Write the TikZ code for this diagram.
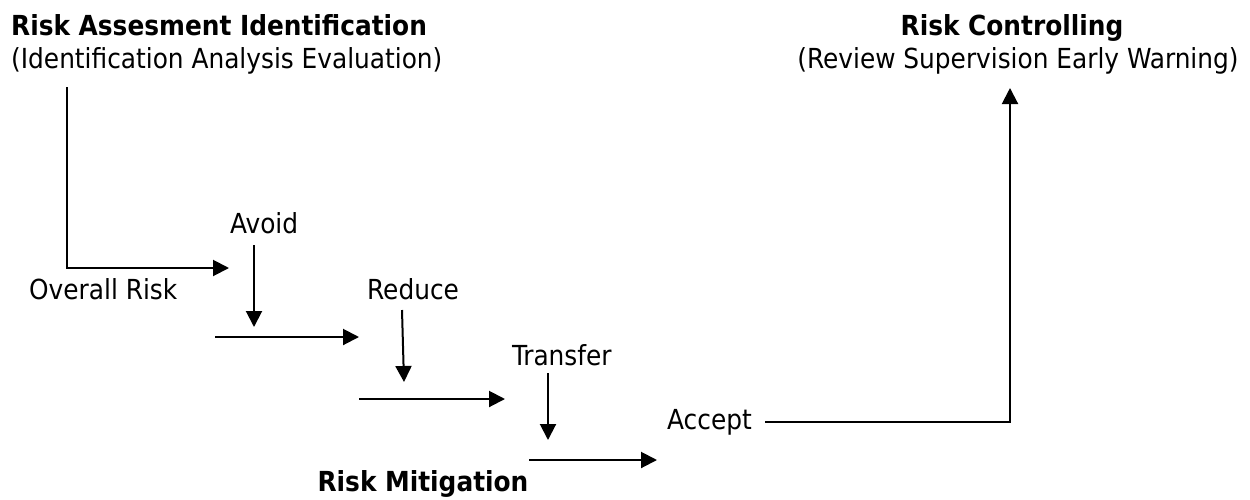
\documentclass[tikz,border=0pt]{standalone}
\usepackage{fontspec}
\setmainfont{DejaVu Sans Condensed}[BoldFont={DejaVu Sans Condensed Bold}]
\usepackage{tikz}
\usetikzlibrary{arrows.meta}

\begin{document}
\begin{tikzpicture}[x=1pt, y=-1pt,
    etichetta/.style = {inner sep=0pt, font=\fontsize{27.6}{32}\selectfont},
    titolo/.style = {etichetta, font=\fontsize{27.6}{32}\selectfont\bfseries},
    freccia/.style = {line width=2pt, -{Triangle[length=16pt, width=16pt]}},
    linea/.style = {line width=2pt}]
    \useasboundingbox (0,0) rectangle (1250,499);
    % Titoli
    \node[titolo, anchor=base west] (titA) at (11,35) {Risk Assesment Identification};
    \node[etichetta, anchor=base west] (subA) at (11,68) {(Identification Analysis Evaluation)};
    \node[titolo, anchor=base] (titC) at (1012,35) {Risk Controlling};
    \node[etichetta, anchor=base] (subC) at (1018,68) {(Review Supervision Early Warning)};
    \node[titolo, anchor=base] (mitig) at (423,491.5) {Risk Mitigation};
    % Passi
    \node[etichetta, anchor=base west] (overall) at (29,299) {Overall Risk};
    \node[etichetta, anchor=base west] (avoid) at (230,233) {Avoid};
    \node[etichetta, anchor=base west] (reduce) at (367,299) {Reduce};
    \node[etichetta, anchor=base west] (transfer) at (512,365) {Transfer};
    \node[etichetta, anchor=base west] (accept) at (667,429) {Accept};
    % Punti
    \coordinate (a0) at (67,87);
    \coordinate (a1) at (67,268);
    \coordinate (a2) at (229,268);
    \coordinate (v0) at (254,245);
    \coordinate (v1) at (254,327);
    \coordinate (h0) at (215,337);
    \coordinate (h1) at (359,337);
    \coordinate (r0) at (402,310);
    \coordinate (r1) at (404,382);
    \coordinate (k0) at (359,399);
    \coordinate (k1) at (505,399);
    \coordinate (t0) at (548,373);
    \coordinate (t1) at (548,440);
    \coordinate (m0) at (529,460);
    \coordinate (m1) at (657,460);
    \coordinate (c0) at (765,422);
    \coordinate (c1) at (1010,422);
    \coordinate (c2) at (1010,88);
    % Frecce
    \draw[freccia] (a0) -- (a1) -- (a2);
    \draw[freccia] (v0) -- (v1);
    \draw[freccia] (h0) -- (h1);
    \draw[freccia] (r0) -- (r1);
    \draw[freccia] (k0) -- (k1);
    \draw[freccia] (t0) -- (t1);
    \draw[freccia] (m0) -- (m1);
    \draw[freccia] (c0) -- (c1) -- (c2);
\end{tikzpicture}
\end{document}
